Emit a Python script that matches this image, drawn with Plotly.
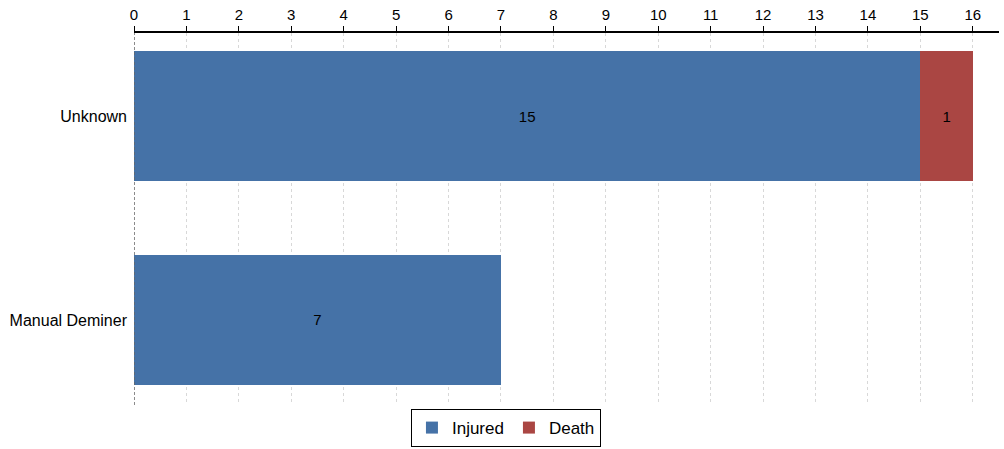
import plotly.graph_objects as go

categories = ["Manual Deminer", "Unknown"]
injured = [7, 15]
death = [0, 1]

fig = go.Figure()
fig.add_trace(go.Bar(
    y=categories, x=injured, name="Injured", orientation="h",
    marker=dict(color="#4572A7", line=dict(width=0)),
    text=[str(v) if v else "" for v in injured], textposition="inside",
    insidetextanchor="middle", textfont=dict(color="black", size=15),
    width=0.64,
))
fig.add_trace(go.Bar(
    y=categories, x=death, name="Death", orientation="h",
    marker=dict(color="#AA4643", line=dict(width=0)),
    text=[str(v) if v else "" for v in death], textposition="inside",
    insidetextanchor="middle", textfont=dict(color="black", size=15),
    width=0.64,
))

fig.update_layout(
    barmode="stack",
    width=1004, height=449,
    margin=dict(l=134, r=5, t=33, b=44, autoexpand=False),
    paper_bgcolor="white", plot_bgcolor="white",
    font=dict(family="Liberation Sans, Arial, sans-serif", size=15, color="black"),
    showlegend=True,
    legend=dict(orientation="h", x=0.43, xanchor="center", y=-0.113, yanchor="bottom",
                bordercolor="black", borderwidth=1, font=dict(size=17),
                traceorder="normal", itemwidth=30, tracegroupgap=0),
    uniformtext=dict(mode="show", minsize=15),
    shapes=[dict(type="line", xref="x", yref="paper", x0=0, x1=0, y0=0, y1=1,
                 line=dict(color="#666666", width=1.5, dash="3px,2px"))],
)
fig.update_xaxes(
    side="top", range=[0, 16.5], dtick=1, tick0=0, automargin=False,
    showgrid=True, gridcolor="#d8d8d8", griddash="3px,3px", gridwidth=1,
    showline=True, linecolor="black", linewidth=1.5,
    ticks="outside", ticklen=5, tickcolor="black",
    zeroline=False, tickfont=dict(size=15),
)
fig.update_yaxes(
    range=[-0.417, 1.407], showgrid=False, automargin=False,
    showline=False, ticks="", tickfont=dict(size=16), zeroline=False,
    ticklabelstandoff=6,
)
fig.write_html("out.html", config={"displayModeBar": False},
               post_script="document.body.style.margin='0';document.body.style.padding='0';")
